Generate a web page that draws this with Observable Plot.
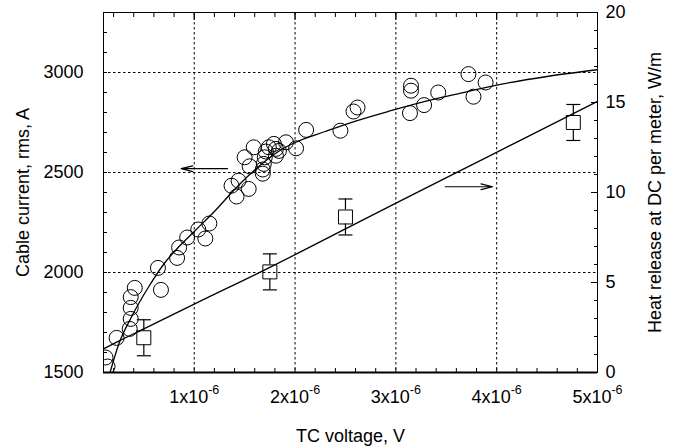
<!DOCTYPE html>
<html>
<head>
<meta charset="utf-8">
<script src="https://cdn.jsdelivr.net/npm/d3@7"></script>
<script src="https://cdn.jsdelivr.net/npm/@observablehq/plot@0.6"></script>
<style>
  html, body { margin: 0; padding: 0; background: #fff; }
  #wrap { position: relative; width: 685px; height: 446px; }
  #wrap svg { position: absolute; left: 0; top: 0; }
</style>
</head>
<body>
<div id="wrap"></div>
<script>
// TC voltage in units of 1e-6 V
const circleVoltage = [0.12,0.14,0.23,0.36,0.37,0.37,0.37,0.41,0.64,0.67,0.83,0.85,0.93,1.04,1.11,1.15,
  1.37,1.42,1.44,1.54,1.50,1.59,1.55,1.68,1.68,1.69,1.70,1.71,1.74,1.79,1.81,1.81,1.84,1.91,2.01,2.11,
  2.45,2.58,2.62,3.15,3.15,3.14,3.28,3.42,3.72,3.77,3.89];
const circleCurrent = [1575,1530,1673,1718,1768,1823,1877,1923,2023,1913,2073,2125,2175,2215,2170,2245,
  2434,2380,2459,2418,2576,2626,2531,2494,2515,2543,2576,2605,2626,2643,2618,2584,2608,2651,2621,2713,
  2709,2805,2825,2934,2909,2797,2837,2900,2992,2879,2950];

const fitCurrentVoltage = [0.165,0.25,0.38,0.55,0.71,0.85,1.0,1.2,1.4,1.55,1.7,1.85,2.0,2.3,2.6,2.95,3.3,3.6,4.0,4.5,5.0];
const fitCurrentValue   = [1500,1640,1780,1930,2050,2130,2205,2305,2415,2490,2555,2610,2650,2705,2757,2809,2857,2892,2937,2980,3014];

const heatVoltage = [0.50,1.75,2.50,4.76];
const heatValue   = [1.93,5.59,8.64,13.89];
const heatError   = [1.0,1.0,1.0,1.0];

const fitHeatVoltage = [0.1,0.25,0.5,1.0,1.75,2.5,3.05,3.6,4.2,5.0];
const fitHeatValue   = [1.31,1.74,2.42,3.8,5.84,7.98,9.55,11.1,12.8,15.06];

const xTicks = [1,2,3,4,5];
const xGrid = [1,2,3,4];
const xMinor = d3.range(0.2, 5, 0.2);
const yLeftTicks = [1500,2000,2500,3000];
const yLeftGrid = [2000,2500,3000];
const yLeftMinor = d3.range(1600, 3300, 100);
const yRightTicks = [0,5,10,15,20];
const yRightMinor = d3.range(1, 20, 1);

const leftArrow = [{x1: 1.33, x2: 0.87, y: 2519}];
const rightArrow = [{x1: 3.49, x2: 3.96, y: 10.32}];

const circles = circleVoltage.map((v,i) => ({x: v, y: circleCurrent[i]}));
const fitI = fitCurrentVoltage.map((v,i) => ({x: v, y: fitCurrentValue[i]}));
const heat = heatVoltage.map((v,i) => ({x: v, y: heatValue[i], e: heatError[i]}));
const fitH = fitHeatVoltage.map((v,i) => ({x: v, y: fitHeatValue[i]}));

const W = 685, H = 446;
const margins = {marginLeft: 103, marginRight: 88, marginTop: 12, marginBottom: 74};
const font = "Liberation Sans, Arial, Helvetica, sans-serif";
const FS = 18;
const blank = () => "";

const capSymbol = {draw(ctx, size) { const w = Math.sqrt(size / Math.PI); ctx.moveTo(-w, 0); ctx.lineTo(w, 0); }};

const p1 = Plot.plot({
  width: W, height: H, ...margins,
  style: {fontFamily: font, fontSize: FS + "px", color: "#000", background: "#fff"},
  x: {domain: [0.1, 5]},
  y: {domain: [1500, 3300]},
  marks: [
    Plot.gridX(xGrid, {stroke: "#000", strokeOpacity: 1, strokeDasharray: "2.5,2.5", strokeWidth: 1}),
    Plot.gridY(yLeftGrid, {stroke: "#000", strokeOpacity: 1, strokeDasharray: "2.5,2.5", strokeWidth: 1}),
    Plot.axisX(xTicks, {anchor: "bottom", tickSize: 0, tickPadding: 18, fontSize: FS,
      tickFormat: d => `${d}x10^-6`, label: "TC voltage, V", labelAnchor: "center", labelArrow: "none", labelOffset: 69}),
    Plot.axisX(xMinor, {anchor: "bottom", tickSize: -4, tickFormat: blank, label: null}),
    Plot.axisX(xMinor, {anchor: "top", tickSize: -4, tickFormat: blank, label: null}),
    Plot.axisX(xTicks, {anchor: "top", tickSize: -7, tickFormat: blank, label: null}),
    Plot.axisY(yLeftTicks, {anchor: "left", tickSize: 0, tickPadding: 20, fontSize: FS, tickFormat: d => String(d),
      label: "Cable current, rms, A", labelAnchor: "center", labelArrow: "none", labelOffset: 87}),
    Plot.axisY(yLeftMinor, {anchor: "left", tickSize: -4, tickFormat: blank, label: null}),
    Plot.frame({stroke: "#000", strokeWidth: 1}),
    Plot.ruleY([1500], {stroke: "#000", strokeWidth: 2}),
    Plot.line(fitI, {x: "x", y: "y", stroke: "#000", strokeWidth: 1.3, curve: "monotone-x", clip: "frame"}),
    Plot.dot(circles, {x: "x", y: "y", r: 7.5, stroke: "#000", fill: "none", strokeWidth: 1, clip: "frame"}),
    Plot.arrow(leftArrow, {x1: "x1", x2: "x2", y1: "y", y2: "y", stroke: "#000", strokeWidth: 1.2, headLength: 15, headAngle: 28})
  ]
});

const p2 = Plot.plot({
  width: W, height: H, ...margins,
  style: {fontFamily: font, fontSize: FS + "px", color: "#000", background: "transparent"},
  x: {domain: [0.1, 5], axis: null},
  y: {domain: [0, 20]},
  marks: [
    Plot.axisY(yRightTicks, {anchor: "right", tickSize: 0, tickPadding: 8, fontSize: FS, tickFormat: d => String(d),
      label: "Heat release at DC per meter, W/m", labelAnchor: "center", labelArrow: "none", labelOffset: 63}),
    Plot.axisY(yRightMinor, {anchor: "right", tickSize: -4, tickFormat: blank, label: null}),
    Plot.axisY(yRightTicks, {anchor: "right", tickSize: -7, tickFormat: blank, label: null}),
    Plot.line(fitH, {x: "x", y: "y", stroke: "#000", strokeWidth: 1.3, curve: "monotone-x"}),
    // upper half of each error bar: from the cap down to the square's top edge
    Plot.ruleX(heat, {x: "x", y1: d => d.y + d.e, y2: "y", insetBottom: 7, stroke: "#000", strokeWidth: 1.2}),
    // lower half: from the square's bottom edge down to the cap
    Plot.ruleX(heat, {x: "x", y1: "y", y2: d => d.y - d.e, insetTop: 7, stroke: "#000", strokeWidth: 1.2}),
    Plot.dot(heat, {x: "x", y: d => d.y + d.e, symbol: capSymbol, r: 7, stroke: "#000", strokeWidth: 1.2}),
    Plot.dot(heat, {x: "x", y: d => d.y - d.e, symbol: capSymbol, r: 7, stroke: "#000", strokeWidth: 1.2}),
    Plot.dot(heat, {x: "x", y: "y", symbol: "square", r: 7.9, stroke: "#000", fill: "none", strokeWidth: 1}),
    Plot.arrow(rightArrow, {x1: "x1", x2: "x2", y1: "y", y2: "y", stroke: "#000", strokeWidth: 1.2, headLength: 15, headAngle: 28})
  ]
});

const wrap = document.getElementById("wrap");
wrap.appendChild(p1);
wrap.appendChild(p2);

// superscript exponents on x tick labels
p1.querySelectorAll('g[aria-label="x-axis tick label"] text').forEach(t => {
  const s = t.textContent;
  if (!s.includes("^")) return;
  const [base, exp] = s.split("^");
  t.textContent = "";
  t.appendChild(document.createTextNode(base));
  const ts = document.createElementNS("http://www.w3.org/2000/svg", "tspan");
  ts.setAttribute("dy", "-9");
  ts.setAttribute("font-size", "12.5");
  ts.textContent = exp;
  t.appendChild(ts);
});
</script>
</body>
</html>
